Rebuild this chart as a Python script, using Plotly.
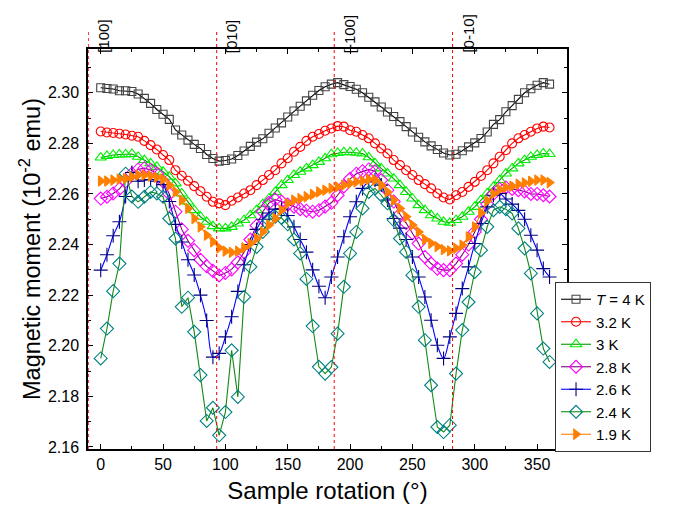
import plotly.graph_objects as go

angles = [0, 5, 10, 15, 20, 25, 30, 35, 40, 45, 50, 55, 60, 65, 70, 75, 80, 85, 90, 95,
          100, 105, 110, 115, 120, 125, 130, 135, 140, 145, 150, 155, 160, 165, 170, 175,
          180, 185, 190, 195, 200, 205, 210, 215, 220, 225, 230, 235, 240, 245, 250, 255,
          260, 265, 270, 275, 280, 285, 290, 295, 300, 305, 310, 315, 320, 325, 330, 335,
          340, 345, 350, 355, 360]

m_4K = [2.3020, 2.3017, 2.3015, 2.3008, 2.3008, 2.3005, 2.2995, 2.2978, 2.2958, 2.2934,
        2.2915, 2.2895, 2.2853, 2.2833, 2.2813, 2.2796, 2.2780, 2.2756, 2.2740, 2.2730,
        2.2732, 2.2738, 2.2752, 2.2770, 2.2788, 2.2805, 2.2818, 2.2840, 2.2861, 2.2881,
        2.2904, 2.2928, 2.2947, 2.2968, 2.2990, 2.3009, 2.3024, 2.3034, 2.3040, 2.3032,
        2.3025, 2.3014, 2.3000, 2.2982, 2.2964, 2.2944, 2.2924, 2.2906, 2.2886, 2.2866,
        2.2845, 2.2824, 2.2806, 2.2790, 2.2776, 2.2762, 2.2754, 2.2757, 2.2771, 2.2786,
        2.2802, 2.2819, 2.2845, 2.2875, 2.2894, 2.2925, 2.2949, 2.2974, 2.3000, 2.3016,
        2.3030, 2.3040, 2.3034]

m_3_2K = [2.2847, 2.2843, 2.2841, 2.2838, 2.2835, 2.2830, 2.2826, 2.2810, 2.2793, 2.2776,
          2.2754, 2.2734, 2.2694, 2.2672, 2.2652, 2.2631, 2.2611, 2.2589, 2.2569, 2.2563,
          2.2556, 2.2573, 2.2586, 2.2602, 2.2615, 2.2635, 2.2655, 2.2675, 2.2694, 2.2721,
          2.2741, 2.2767, 2.2786, 2.2810, 2.2826, 2.2837, 2.2850, 2.2859, 2.2868, 2.2866,
          2.2852, 2.2846, 2.2833, 2.2820, 2.2800, 2.2780, 2.2760, 2.2734, 2.2714, 2.2694,
          2.2675, 2.2655, 2.2639, 2.2622, 2.2602, 2.2586, 2.2578, 2.2595, 2.2608, 2.2628,
          2.2648, 2.2671, 2.2694, 2.2721, 2.2747, 2.2773, 2.2800, 2.2820, 2.2833, 2.2846,
          2.2859, 2.2866, 2.2863]

m_3K = [2.2744, 2.2750, 2.2754, 2.2756, 2.2756, 2.2758, 2.2747, 2.2734, 2.2721, 2.2707,
        2.2688, 2.2668, 2.2642, 2.2602, 2.2569, 2.2536, 2.2510, 2.2490, 2.2473, 2.2464,
        2.2464, 2.2470, 2.2483, 2.2497, 2.2516, 2.2536, 2.2560, 2.2582, 2.2608, 2.2635,
        2.2655, 2.2675, 2.2688, 2.2701, 2.2714, 2.2727, 2.2741, 2.2757, 2.2762, 2.2765,
        2.2765, 2.2763, 2.2760, 2.2745, 2.2721, 2.2701, 2.2681, 2.2661, 2.2635, 2.2608,
        2.2582, 2.2556, 2.2536, 2.2516, 2.2503, 2.2490, 2.2486, 2.2497, 2.2510, 2.2530,
        2.2549, 2.2576, 2.2602, 2.2628, 2.2655, 2.2681, 2.2701, 2.2721, 2.2734, 2.2747,
        2.2754, 2.2760, 2.2758]

m_2_8K = [2.2582, 2.2589, 2.2602, 2.2620, 2.2650, 2.2680, 2.2697, 2.2702, 2.2695, 2.2680,
          2.2650, 2.2600, 2.2530, 2.2460, 2.2415, 2.2378, 2.2340, 2.2314, 2.2296, 2.2278,
          2.2288, 2.2302, 2.2330, 2.2370, 2.2420, 2.2475, 2.2530, 2.2565, 2.2578, 2.2570,
          2.2558, 2.2550, 2.2540, 2.2534, 2.2530, 2.2536, 2.2550, 2.2565, 2.2595, 2.2630,
          2.2660, 2.2680, 2.2690, 2.2697, 2.2690, 2.2655, 2.2615, 2.2570, 2.2520, 2.2485,
          2.2445, 2.2404, 2.2351, 2.2325, 2.2305, 2.2299, 2.2299, 2.2325, 2.2360, 2.2400,
          2.2450, 2.2500, 2.2560, 2.2600, 2.2620, 2.2625, 2.2620, 2.2615, 2.2610, 2.2600,
          2.2600, 2.2595, 2.2590]

m_2_6K = [2.2299, 2.2360, 2.2435, 2.2490, 2.2590, 2.2685, 2.2650, 2.2655, 2.2657, 2.2650,
          2.2637, 2.2570, 2.2480, 2.2410, 2.2340, 2.2280, 2.2200, 2.2100, 2.1955, 2.1970,
          2.2035, 2.2115, 2.2215, 2.2320, 2.2400, 2.2460, 2.2500, 2.2525, 2.2540, 2.2540,
          2.2515, 2.2470, 2.2420, 2.2370, 2.2300, 2.2235, 2.2190, 2.2272, 2.2351, 2.2431,
          2.2510, 2.2569, 2.2622, 2.2648, 2.2655, 2.2635, 2.2576, 2.2503, 2.2465, 2.2420,
          2.2351, 2.2272, 2.2193, 2.2101, 2.2002, 2.1950, 2.2035, 2.2128, 2.2226, 2.2312,
          2.2404, 2.2483, 2.2549, 2.2595, 2.2602, 2.2580, 2.2560, 2.2535, 2.2500, 2.2437,
          2.2378, 2.2305, 2.2272]

m_2_4K = [2.1950, 2.2068, 2.2216, 2.2325, 2.2680, 2.2590, 2.2569, 2.2589, 2.2608, 2.2602,
          2.2589, 2.2503, 2.2424, 2.2154, 2.2190, 2.2055, 2.1884, 2.1703, 2.1755, 2.1646,
          2.1738, 2.1982, 2.1798, 2.2193, 2.2312, 2.2391, 2.2450, 2.2495, 2.2510, 2.2505,
          2.2480, 2.2420, 2.2365, 2.2264, 2.2078, 2.1917, 2.1890, 2.1916, 2.2048, 2.2233,
          2.2365, 2.2450, 2.2543, 2.2608, 2.2622, 2.2595, 2.2563, 2.2497, 2.2424, 2.2371,
          2.2279, 2.2154, 2.2022, 2.1844, 2.1679, 2.1659, 2.1686, 2.1890, 2.2062, 2.2173,
          2.2292, 2.2378, 2.2470, 2.2536, 2.2549, 2.2540, 2.2523, 2.2464, 2.2385, 2.2286,
          2.2128, 2.1989, 2.1936]

m_1_9K = [2.2651, 2.2651, 2.2655, 2.2659, 2.2661, 2.2668, 2.2675, 2.2675, 2.2671, 2.2666,
          2.2659, 2.2635, 2.2608, 2.2576, 2.2543, 2.2503, 2.2470, 2.2437, 2.2411, 2.2387,
          2.2374, 2.2369, 2.2374, 2.2387, 2.2404, 2.2424, 2.2450, 2.2477, 2.2503, 2.2536,
          2.2563, 2.2576, 2.2582, 2.2589, 2.2598, 2.2608, 2.2615, 2.2622, 2.2628, 2.2635,
          2.2642, 2.2648, 2.2652, 2.2658, 2.2655, 2.2635, 2.2608, 2.2576, 2.2543, 2.2510,
          2.2477, 2.2450, 2.2420, 2.2405, 2.2392, 2.2380, 2.2375, 2.2385, 2.2398, 2.2430,
          2.2470, 2.2525, 2.2572, 2.2600, 2.2618, 2.2626, 2.2631, 2.2639, 2.2644, 2.2650,
          2.2655, 2.2655, 2.2645]

series_names = ["<i>T</i> = 4 K", "3.2 K", "3 K", "2.8 K", "2.6 K", "2.4 K", "1.9 K"]

direction_angles = [-10, 93, 187.3, 282.2]
direction_labels = ["[100]", "[010]", "[-100]", "[0-10]"]

x_ticks = [0, 50, 100, 150, 200, 250, 300, 350]
y_ticks = [2.16, 2.18, 2.20, 2.22, 2.24, 2.26, 2.28, 2.30]

styles = [
    dict(data=m_4K, line="#000000", mcol="#444444", sym="square-open", size=8, shape="linear"),
    dict(data=m_3_2K, line="#ff0000", mcol="#ff0000", sym="circle-open", size=9, shape="linear"),
    dict(data=m_3K, line="#009900", mcol="#00ee00", sym="triangle-up-open", size=10, shape="linear"),
    dict(data=m_2_8K, line="#800080", mcol="#ff00ff", sym="diamond-open", size=10, shape="linear"),
    dict(data=m_2_6K, line="#0000ff", mcol="#000080", sym="cross-thin-open", size=10, shape="spline"),
    dict(data=m_2_4K, line="#138a13", mcol="#008080", sym="diamond-open", size=10, shape="linear"),
    dict(data=m_1_9K, line="#ff8000", mcol="#ff8000", sym="triangle-right", size=9, shape="linear"),
]

fig = go.Figure()
for name, st in zip(series_names, styles):
    fig.add_trace(go.Scatter(
        x=angles, y=st["data"], name=name, mode="lines+markers",
        line=dict(color=st["line"], width=1.1, shape=st["shape"]),
        marker=dict(symbol=st["sym"], size=st["size"], color=st["mcol"],
                    line=dict(color=st["mcol"], width=1.1)),
    ))

for xa, lab in zip(direction_angles, direction_labels):
    fig.add_shape(type="line", xref="x", yref="paper", x0=xa, x1=xa, y0=0, y1=1.043,
                  line=dict(color="#ff0000", width=1, dash="dot"))
    fig.add_annotation(x=xa, y=1, xref="x", yref="paper", text=lab, textangle=-90,
                       showarrow=False, xanchor="center", yanchor="bottom", xshift=15, yshift=-6,
                       font=dict(size=15, color="#000000"))

axis_common = dict(
    showline=True, linecolor="#000000", linewidth=1.5, mirror="ticks",
    ticks="inside", ticklen=5, tickwidth=1.2, tickcolor="#000000",
    showgrid=False, zeroline=False,
    tickfont=dict(size=16, color="#000000"),
)

fig.update_xaxes(**axis_common, range=[-10.2, 374], tickvals=x_ticks, ticklabelstandoff=0,
                 minor=dict(ticks="inside", ticklen=3, dtick=25, tick0=0, tickcolor="#000000"),
                 title=dict(text="Sample rotation (°)", font=dict(size=24, color="#000000"), standoff=10))
fig.update_yaxes(**axis_common, range=[2.1592, 2.3173], tickvals=y_ticks, tickformat=".2f",
                 ticklabelstandoff=4,
                 minor=dict(ticks="inside", ticklen=3, dtick=0.01, tick0=2.16, tickcolor="#000000"),
                 title=dict(text="Magnetic moment (10<sup>-2</sup> emu)", font=dict(size=23.5, color="#000000"), standoff=1))

fig.update_layout(
    width=683, height=512,
    margin=dict(l=88, r=116, t=49, b=63, autoexpand=False),
    paper_bgcolor="white", plot_bgcolor="white",
    font=dict(family="Liberation Sans, Arial, sans-serif", color="#000000"),
    showlegend=True,
    legend=dict(x=0.975, y=0.4175, xanchor="left", yanchor="top",
                bgcolor="white", bordercolor="#333333", borderwidth=1,
                font=dict(size=15, color="#000000"), tracegroupgap=0),
)

# remove the default 8px page margin so the figure fills the window exactly
fig.write_html("out.html", config={"displayModeBar": False},
               post_script="document.body.style.margin='0px';")
